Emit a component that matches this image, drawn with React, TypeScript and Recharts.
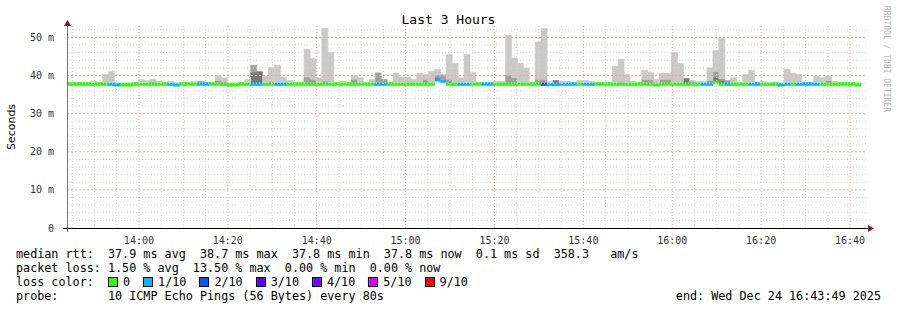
import React from 'react';
import { ComposedChart, Bar, Cell, XAxis, YAxis, ReferenceLine } from 'recharts';

// one RRD step is 80 s, the window starts 3 hours before "end"
const STEP_MIN = 80 / 60;
const START_MIN = 13 * 60 + 43 + 49 / 60;

const xTickLabels = ['14:00', '14:20', '14:40', '15:00', '15:20', '15:40', '16:00', '16:20', '16:40'];
const yTicks = [0, 10, 20, 30, 40, 50];

const lossColors = ['#26ff00', '#00b8ff', '#0059ff', '#5e00ff', '#7e00ff', '#dd00ff', '#ff0000'];
const lossLabels = ['0', '1/10', '2/10', '3/10', '4/10', '5/10', '9/10'];

// median rtt per step (ms)
const medRtt = [
  37.8, 37.8, 37.8, 37.8, 37.8, 37.8, 37.8, 37.8, 37.6, 37.6,
  37.6, 37.8, 37.8, 37.8, 37.8, 37.8, 37.8, 37.8, 37.6, 37.8,
  37.8, 37.8, 37.8, 37.8, 37.8, 37.8, 37.8, 37.6, 37.6, 37.8,
  37.8, 37.8, 37.8, 37.8, 37.8, 37.8, 37.8, 37.8, 37.8, 37.8,
  37.8, 37.8, 37.8, 37.8, 37.8, 37.8, 37.8, 37.8, 37.8, 37.8,
  37.8, 37.8, 37.8, 37.8, 37.8, 37.8, 37.8, 37.8, 37.8, 37.8,
  37.8, 37.8, 38.9, 38.5, 37.8, 37.8, 37.8, 37.8, 37.8, 37.8,
  37.8, 37.8, 37.8, 37.8, 37.8, 37.8, 37.8, 37.8, 37.8, 37.8,
  37.8, 37.7, 37.7, 37.8, 37.8, 37.8, 37.8, 37.8, 37.8, 37.8,
  37.8, 37.8, 37.8, 37.8, 37.8, 37.8, 37.8, 37.8, 37.8, 37.6,
  37.8, 37.8, 37.8, 37.8, 37.8, 37.8, 37.8, 37.8, 37.8, 38.3,
  37.8, 37.8, 37.8, 37.8, 37.8, 37.8, 37.8, 37.8, 37.8, 37.8,
  37.6, 37.8, 37.8, 37.8, 37.8, 37.8, 37.8, 37.8, 37.8, 37.8,
  37.8, 37.8, 37.8, 37.6, null,
];

// index into lossColors
const lossIdx = [
  0, 0, 0, 0, 0, 0, 0, 1, 1, 0,
  0, 0, 0, 0, 0, 0, 0, 1, 1, 0,
  0, 0, 1, 1, 0, 0, 0, 0, 0, 0,
  0, 1, 1, 0, 0, 1, 1, 0, 0, 0,
  0, 0, 0, 0, 0, 0, 0, 0, 0, 0,
  0, 0, 1, 1, 0, 0, 0, 0, 0, 0,
  0, 0, 1, 1, 0, 0, 1, 1, 0, 0,
  1, 1, 0, 0, 0, 0, 0, 0, 0, 0,
  2, 1, 1, 1, 1, 1, 0, 1, 1, 0,
  0, 0, 0, 0, 0, 0, 0, 0, 0, 0,
  0, 0, 0, 0, 0, 0, 0, 1, 1, 0,
  0, 1, 0, 0, 0, 1, 1, 0, 0, 0,
  1, 1, 0, 1, 1, 1, 1, 0, 0, 0,
  0, 0, 0, 0, 0,
];

// smoke: top of the light band
const hiRtt = [
  null, null, null, null, 38.5, null, 40.3, 41.1, null, null,
  null, null, 39.0, 38.7, 39.0, 38.5, null, 38.5, 38.2, null,
  null, 38.5, 38.5, null, null, 40.1, 39.4, null, null, null,
  39.0, 42.7, 41.0, 39.9, 42.1, 42.7, 39.6, 38.7, null, null,
  46.9, 44.4, 39.4, 52.4, 46.1, null, 38.5, null, 40.1, 39.4,
  null, 39.0, 40.7, 39.0, null, 40.6, 39.6, 39.6, 39.0, 40.6,
  40.3, 41.1, 41.6, 40.2, 45.5, 43.2, 39.4, 45.5, 40.8, null,
  null, null, 38.5, 38.5, 50.5, 44.6, 43.2, 42.0, null, 48.8,
  52.4, 38.4, 38.7, 38.5, 38.5, null, 38.7, 38.7, 38.5, null,
  null, null, 42.4, 44.3, 40.3, 38.5, null, 41.4, 40.8, 39.0,
  40.6, 40.6, 46.1, 43.2, 39.2, 38.7, 38.5, 38.5, 42.0, 46.6,
  49.8, 38.7, 39.4, null, 40.3, 41.4, null, 38.5, 38.2, null,
  null, 41.6, 40.6, 40.3, null, null, 39.9, 39.4, 39.9, 38.5,
  null, null, null, null, null,
];

// smoke: top of the mid grey band
const midRtt = [
  null, null, null, null, null, null, null, null, null, null,
  null, null, null, null, 38.4, null, null, null, null, null,
  null, null, 38.5, null, null, 38.7, 38.4, null, null, null,
  null, 42.7, null, null, 38.3, null, null, null, null, null,
  39.6, 39.0, null, 38.5, null, null, null, null, 39.0, null,
  null, null, 40.7, 39.0, null, null, null, null, null, null,
  39.0, null, 40.2, 40.2, 39.0, null, null, null, null, null,
  null, null, null, null, 40.2, 39.4, null, null, null, 39.0,
  39.0, null, null, null, null, null, null, null, null, null,
  null, null, null, 38.3, null, null, null, 39.0, 39.0, null,
  39.0, 39.0, null, null, null, 38.5, null, null, 38.7, 41.1,
  39.2, 38.7, null, null, null, null, null, null, null, null,
  null, null, null, null, null, null, null, null, 38.7, null,
  null, null, null, null, null,
];

// smoke: top of the dark band
const darkRtt = [
  null, null, null, null, null, null, null, null, null, null,
  null, null, null, null, null, null, null, null, null, null,
  null, null, null, null, null, null, null, null, null, null,
  null, 40.9, 41.0, null, null, null, null, null, null, null,
  null, null, null, null, null, null, null, null, null, null,
  null, null, null, null, null, null, null, null, null, null,
  null, null, 39.5, null, null, null, null, null, null, null,
  null, null, null, null, null, null, null, null, null, null,
  null, null, 38.7, null, null, null, null, null, null, null,
  null, null, null, null, null, null, null, null, null, null,
  null, null, null, null, 39.2, null, null, null, null, 39.6,
  38.7, null, null, null, null, null, null, null, null, null,
  null, null, null, null, null, null, null, null, null, null,
  null, null, null, null, null,
];

const HALF = 0.4; // half thickness of the median line, in ms

const rows = medRtt.map((m, i) => {
  const t = (i + 0.5) * STEP_MIN;
  if (m == null) return { t, base: null, med: null, dark: null, mid: null, light: null };
  const top = m + HALF;
  const d = Math.max(darkRtt[i] ?? top, top);
  const md = Math.max(midRtt[i] ?? d, d);
  const h = Math.max(hiRtt[i] ?? md, md);
  return { t, base: m - HALF, med: HALF * 2, dark: d - top, mid: md - d, light: h - md };
});

const toMin = (s: string) => {
  const [h, m] = s.split(':').map(Number);
  return h * 60 + m - START_MIN;
};
const xTicks = xTickLabels.map(toMin);
const labelOf = (v: number) => xTickLabels[xTicks.findIndex((x) => Math.abs(x - v) < 0.01)] ?? '';

const minorX: number[] = [];
for (let m = 13 * 60 + 45; m <= 16 * 60 + 40; m += 5) if (m % 20 !== 0) minorX.push(m - START_MIN);
const minorY: number[] = [];
for (let v = 2; v <= 52; v += 2) if (v % 10 !== 0) minorY.push(v);

const mono = "'DejaVu Sans Mono', monospace";

export default function App() {
  return (
    <div style={{ position: 'absolute', left: 0, top: 0, width: 897, height: 310, background: '#fff', fontFamily: mono }}>
      <div style={{ position: 'absolute', left: 0, width: 897, top: 12, textAlign: 'center', fontSize: 13, color: '#000' }}>
        Last 3 Hours
      </div>
      <div style={{ position: 'absolute', left: 11, top: 127, transform: 'translate(-50%, -50%) rotate(-90deg)', fontFamily: "'DejaVu Sans', sans-serif", fontSize: 11, whiteSpace: 'nowrap' }}>
        Seconds
      </div>
      <div style={{ position: 'absolute', left: 886, top: 59, transform: 'translate(-50%, -50%) rotate(90deg)', fontSize: 8, color: '#b4b4b4', whiteSpace: 'nowrap' }}>
        RRDTOOL / TOBI OETIKER
      </div>

      <ComposedChart width={897} height={310} data={rows} margin={{ top: 26, right: 30, bottom: 52, left: 0 }}
        barGap={0} barCategoryGap={0}>
        <XAxis dataKey="t" type="number" domain={[0, 180]} allowDataOverflow height={30} ticks={xTicks}
          tickFormatter={labelOf} axisLine={false} tickLine={false} tickMargin={3}
          tick={{ fontSize: 10, fill: '#333', fontFamily: mono }} interval={0} />
        <YAxis type="number" domain={[0, 53]} allowDataOverflow width={67} ticks={yTicks}
          tickFormatter={(v: number) => (v === 0 ? '0' : `${v} m`)} axisLine={false} tickLine={false} tickMargin={7}
          tick={{ fontSize: 10, fill: '#333', fontFamily: mono }} interval={0} />
        {minorX.map((x) => <ReferenceLine key={'mx' + x} x={x} stroke="#d4d4d4" strokeDasharray="1 2" />)}
        {minorY.map((y) => <ReferenceLine key={'my' + y} y={y} stroke="#d4d4d4" strokeDasharray="1 2" />)}
        {xTicks.map((x) => <ReferenceLine key={'Mx' + x} x={x} stroke="#f0a8a8" strokeDasharray="1 2" />)}
        {yTicks.slice(1).map((y) => <ReferenceLine key={'My' + y} y={y} stroke="#f0a8a8" strokeDasharray="2 2" />)}
        <Bar dataKey="base" stackId="s" fill="transparent" isAnimationActive={false} />
        <Bar dataKey="med" stackId="s" isAnimationActive={false} strokeWidth={0.6}>
          {rows.map((_, i) => <Cell key={i} fill={lossColors[lossIdx[i]]} stroke={lossColors[lossIdx[i]]} />)}
        </Bar>
        <Bar dataKey="dark" stackId="s" fill="#787878" stroke="#787878" strokeWidth={0.6} isAnimationActive={false} />
        <Bar dataKey="mid" stackId="s" fill="#a0a0a0" stroke="#a0a0a0" strokeWidth={0.6} isAnimationActive={false} />
        <Bar dataKey="light" stackId="s" fill="#c9c9c9" stroke="#c9c9c9" strokeWidth={0.6} isAnimationActive={false} />
      </ComposedChart>

      <svg width={897} height={310} style={{ position: 'absolute', left: 0, top: 0, pointerEvents: 'none' }}>
        <line x1={67.5} y1={232} x2={67.5} y2={24} stroke="#777" />
        <polygon points="64,26 71,26 67.5,20" fill="#7a1c1c" />
        <line x1={63} y1={228.5} x2={868} y2={228.5} stroke="#000" />
        <polygon points="868,225 868,232 874,228.5" fill="#7a1c1c" />
      </svg>

      <div style={{ position: 'absolute', left: 16, top: 247, fontSize: 11.75, lineHeight: '14px', whiteSpace: 'pre', color: '#000' }}>
        <div>median rtt:  37.9 ms avg  38.7 ms max  37.8 ms min  37.8 ms now  0.1 ms sd  358.3   am/s</div>
        <div>packet loss: 1.50 % avg  13.50 % max  0.00 % min  0.00 % now</div>
        <div style={{ display: 'flex', alignItems: 'center' }}>
          <span style={{ width: 92 }}>loss color:</span>
          {lossLabels.map((l, i) => (
            <span key={l} style={{ display: 'flex', alignItems: 'center', marginRight: 13 }}>
              <span style={{ width: 8, height: 8, background: lossColors[i], border: '1px solid #000', marginRight: 5 }} />
              {l}
            </span>
          ))}
        </div>
        <div>probe:       10 ICMP Echo Pings (56 Bytes) every 80s</div>
      </div>
      <div style={{ position: 'absolute', right: 16, top: 289, fontSize: 11.75, lineHeight: '14px', whiteSpace: 'pre' }}>
        end: Wed Dec 24 16:43:49 2025
      </div>
    </div>
  );
}
